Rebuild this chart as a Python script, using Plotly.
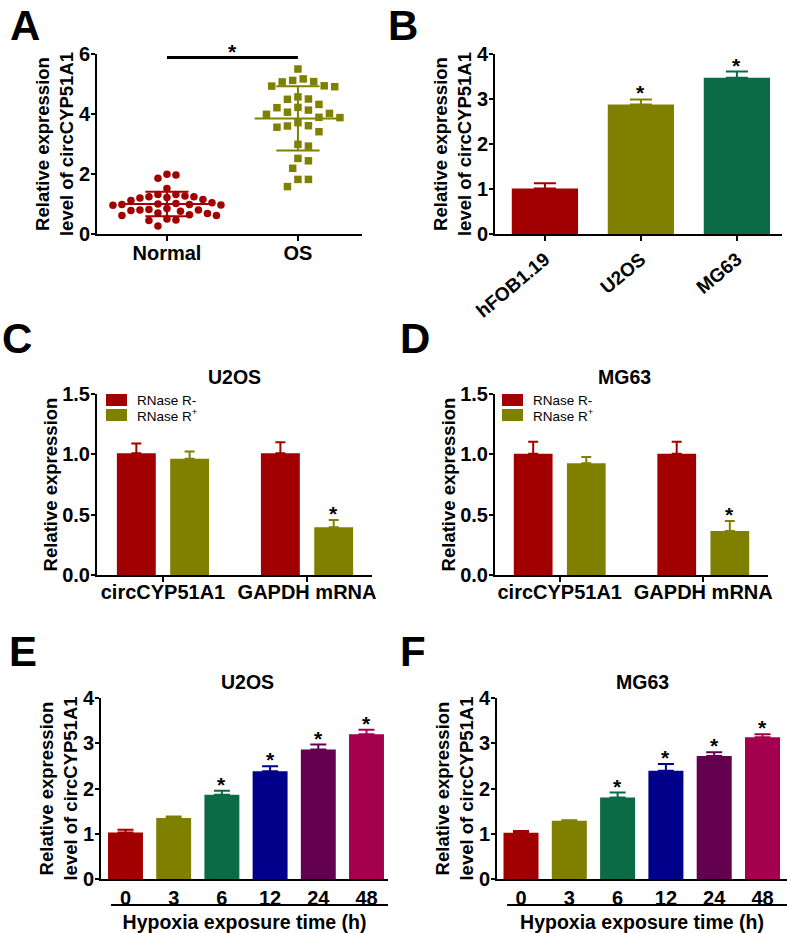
import numpy as np
import plotly.graph_objects as go

# ---------------- data ----------------
groups_A = ["Normal", "OS"]
normal_vals = [1.97, 1.86, 1.99, 1.52,
               1.32, 1.32, 1.27, 1.24, 1.22, 1.20, 1.24,
               1.12, 1.15,
               1.02, 0.98, 0.96, 1.00, 0.98, 1.04, 0.97,
               0.80, 0.82, 0.78, 0.76, 0.85, 0.80,
               0.68, 0.62, 0.70, 0.64, 0.62,
               0.50, 0.47, 0.45,
               0.27]
os_vals = [5.50, 5.17, 5.07, 5.12, 5.08, 4.94, 4.91, 4.93, 4.57, 4.49, 4.50,
           4.32, 4.21, 4.22, 4.13, 4.06, 3.99, 4.02, 3.88, 3.89, 3.71, 3.61,
           3.56, 3.60, 3.41, 2.93, 2.99, 2.44, 2.52, 2.19, 1.82, 1.82, 1.58]

cell_lines = ["hFOB1.19", "U2OS", "MG63"]
cell_mean = [1.01, 2.88, 3.47]
cell_err = [0.12, 0.11, 0.14]
cell_sig = [False, True, True]

rnase_genes = ["circCYP51A1", "GAPDH mRNA"]
u2os_minus = [1.01, 1.01]
u2os_minus_err = [0.08, 0.09]
u2os_plus = [0.963, 0.396]
u2os_plus_err = [0.06, 0.06]
mg63_minus = [1.005, 1.005]
mg63_minus_err = [0.10, 0.10]
mg63_plus = [0.927, 0.365]
mg63_plus_err = [0.05, 0.083]
rnase_sig = [False, True]

hyp_times = ["0", "3", "6", "12", "24", "48"]
u2os_hyp = [1.03, 1.35, 1.86, 2.38, 2.86, 3.20]
u2os_hyp_err = [0.06, 0.03, 0.09, 0.11, 0.11, 0.10]
mg63_hyp = [1.02, 1.29, 1.80, 2.39, 2.72, 3.13]
mg63_hyp_err = [0.04, 0.01, 0.11, 0.15, 0.08, 0.07]
hyp_sig = [False, False, True, True, True, True]

# ---------------- style ----------------
W, H = 787, 933
FONT = "Liberation Sans, Arial, sans-serif"
NARROW = "Liberation Sans Narrow, Arial Narrow, Liberation Sans, sans-serif"
RED = "#A20000"
OLIVE = "#808000"
GREEN = "#0A6B46"
BLUE = "#00008A"
PURPLE = "#630050"
CRIMSON = "#A5004E"
HYP_COLORS = [RED, OLIVE, GREEN, BLUE, PURPLE, CRIMSON]


def px(x):
    return x / W


def py(y):
    return 1 - y / H


def swarm(vals, ppu_y, ppu_x, d):
    """Simple deterministic beeswarm: returns x offsets (axis units)."""
    placed = []
    offs = [0.0] * len(vals)
    order = sorted(range(len(vals)), key=lambda i: -vals[i])
    cands = [0.0] + [s * j * d * 0.5 for j in range(1, 60) for s in (1, -1)]
    for i in order:
        yv = vals[i] * ppu_y
        for c in cands:
            if all((c - a) ** 2 + (yv - b) ** 2 >= d * d for a, b in placed):
                break
        placed.append((c, yv))
        offs[i] = c / ppu_x
    return offs


fig = go.Figure()

# ---------------- panel A ----------------
for gi, (vals, sym, col, d) in enumerate([(normal_vals, "circle", RED, 9.0),
                                          (os_vals, "square", OLIVE, 10.5)]):
    offs = swarm(vals, 30, 131, d)
    fig.add_trace(go.Scatter(x=[gi + o for o in offs], y=vals, mode="markers",
                             marker=dict(symbol=sym, size=7.5, color=col, line=dict(width=0)),
                             xaxis="x", yaxis="y", showlegend=False, hoverinfo="y"))
    m = float(np.mean(vals))
    s = float(np.std(vals, ddof=1))
    xs = [gi - 0.33, gi + 0.33, None, gi, gi, None,
          gi - 0.165, gi + 0.165, None, gi - 0.165, gi + 0.165]
    ys = [m, m, None, m - s, m + s, None, m + s, m + s, None, m - s, m - s]
    fig.add_trace(go.Scatter(x=xs, y=ys, mode="lines", line=dict(color=col, width=2),
                             xaxis="x", yaxis="y", showlegend=False, hoverinfo="skip"))

SIG_Y_A = 5.88
fig.add_shape(type="line", xref="x", yref="y", x0=0, x1=1, y0=SIG_Y_A, y1=SIG_Y_A,
              line=dict(color="black", width=3))

annotations = []


def star(xref, yref, x, y):
    annotations.append(dict(xref=xref, yref=yref, x=x, y=y, text="*", showarrow=False,
                            yanchor="bottom", yshift=-7,
                            font=dict(family=FONT, size=21, color="black", weight="bold")))


star("x", "y", 0.5, SIG_Y_A)

# ---------------- panel B ----------------
for i, (v, e, c) in enumerate(zip(cell_mean, cell_err, [RED, OLIVE, GREEN])):
    fig.add_trace(go.Bar(x=[i], y=[v], width=0.69, marker=dict(color=c, line=dict(width=0)),
                         error_y=dict(type="data", array=[e], arrayminus=[0], symmetric=False,
                                      color=c, thickness=2, width=11),
                         xaxis="x2", yaxis="y2", showlegend=False))
    if cell_sig[i]:
        star("x2", "y2", i, v + e)

# ---------------- panels C & D ----------------
BW, OFF_M, OFF_P = 0.27, -0.32, 0.05
for ax_i, (mn, mne, pl, ple) in zip([3, 4], [(u2os_minus, u2os_minus_err, u2os_plus, u2os_plus_err),
                                            (mg63_minus, mg63_minus_err, mg63_plus, mg63_plus_err)]):
    xa, ya = "x%d" % ax_i, "y%d" % ax_i
    xs = list(range(len(rnase_genes)))
    fig.add_trace(go.Bar(x=xs, y=mn, width=BW, offset=OFF_M, marker=dict(color=RED, line=dict(width=0)),
                         error_y=dict(type="data", array=mne, arrayminus=[0] * len(mn), symmetric=False,
                                      color=RED, thickness=2, width=5),
                         xaxis=xa, yaxis=ya, showlegend=False))
    fig.add_trace(go.Bar(x=xs, y=pl, width=BW, offset=OFF_P, marker=dict(color=OLIVE, line=dict(width=0)),
                         error_y=dict(type="data", array=ple, arrayminus=[0] * len(pl), symmetric=False,
                                      color=OLIVE, thickness=2, width=5),
                         xaxis=xa, yaxis=ya, showlegend=False))
    for j, sg in enumerate(rnase_sig):
        if sg:
            star(xa, ya, j + OFF_P + BW / 2, pl[j] + ple[j])

# ---------------- panels E & F ----------------
for ax_i, (vals, errs) in zip([5, 6], [(u2os_hyp, u2os_hyp_err), (mg63_hyp, mg63_hyp_err)]):
    xa, ya = "x%d" % ax_i, "y%d" % ax_i
    for i, (v, e, c) in enumerate(zip(vals, errs, HYP_COLORS)):
        fig.add_trace(go.Bar(x=[i], y=[v], width=0.725, marker=dict(color=c, line=dict(width=0)),
                             error_y=dict(type="data", array=[e], arrayminus=[0], symmetric=False,
                                          color=c, thickness=2, width=8),
                             xaxis=xa, yaxis=ya, showlegend=False))
        if hyp_sig[i]:
            star(xa, ya, i, v + e)

# ---------------- axes ----------------
TICKFONT = dict(family=FONT, size=20, color="black", weight="bold")
TITLEFONT = dict(family=FONT, size=18.5, color="black", weight="bold")


def xax(x0, x1, yaxis, rng, ticktext, ticks="outside", angle=0, title=None, lab_off=0, fsize=20):
    d = dict(domain=[px(x0), px(x1)], anchor=yaxis, range=rng,
             tickmode="array", tickvals=list(range(len(ticktext))), ticktext=ticktext,
             showline=True, linecolor="black", linewidth=2, ticks=ticks, ticklen=5,
             tickwidth=2, tickcolor="black", showgrid=False, zeroline=False,
             tickfont=dict(TICKFONT, size=fsize), tickangle=angle, fixedrange=True,
             ticklabelstandoff=lab_off)
    if title:
        d["title"] = dict(text=title, font=dict(family=FONT, size=19.5, color="black", weight="bold"),
                          standoff=10)
    return d


def yax(ytop, ybot, xaxis, rng, dtick, title, standoff, fmt=None):
    d = dict(domain=[py(ybot), py(ytop)], anchor=xaxis, range=rng, dtick=dtick, tick0=0,
             showline=True, linecolor="black", linewidth=2, ticks="outside", ticklen=4,
             tickwidth=2, tickcolor="black", showgrid=False, zeroline=False,
             tickfont=TICKFONT, fixedrange=True, ticklabelstandoff=-3,
             title=dict(text=title, font=TITLEFONT, standoff=standoff))
    if fmt:
        d["tickformat"] = fmt
    return d


TWO_LINE = "Relative expression<br>level of circCYP51A1"

layout_axes = dict(
    xaxis=xax(97, 362, "y", [-0.534, 1.489], groups_A, lab_off=-5),
    yaxis=yax(54, 234, "x", [0, 6], 2, TWO_LINE, 0),
    xaxis2=xax(495, 782, "y2", [-0.52, 2.47], cell_lines, angle=-40, fsize=19),
    yaxis2=yax(54, 234, "x2", [0, 4], 1, TWO_LINE, 0),
    xaxis3=xax(97, 372, "y3", [-0.458, 1.451], rnase_genes, lab_off=-7),
    yaxis3=yax(394, 575, "x3", [0, 1.5], 0.5, "Relative expression", 0, ".1f"),
    xaxis4=xax(495, 768, "y4", [-0.451, 1.451], rnase_genes, lab_off=-7),
    yaxis4=yax(394, 575, "x4", [0, 1.5], 0.5, "Relative expression", 0, ".1f"),
    xaxis5=xax(101, 388, "y5", [-0.508, 5.446], hyp_times, ticks="",
               title="Hypoxia exposure time (h)"),
    yaxis5=yax(698, 879, "x5", [0, 4], 1, TWO_LINE, 0),
    xaxis6=xax(497, 787, "y6", [-0.497, 5.507], hyp_times, ticks="",
               title="Hypoxia exposure time (h)"),
    yaxis6=yax(698, 879, "x6", [0, 4], 1, TWO_LINE, 0),
)

# ---------------- decorations ----------------
for letter, (lx, ly, anc) in zip("ABCDEF", [(25, 0, "top"), (403, 0, "top"), (17, 339, "middle"),
                                            (415, 338, "middle"), (23, 651, "middle"), (413, 651, "middle")]):
    annotations.append(dict(xref="paper", yref="paper", x=px(lx), y=py(ly), text=letter,
                            showarrow=False, xanchor="center", yanchor=anc,
                            font=dict(family=FONT, size=42, color="black", weight="bold")))

for t, (tx, ty) in zip(["U2OS", "MG63", "U2OS", "MG63"], [(235, 377), (624, 377), (247, 682), (642, 682)]):
    annotations.append(dict(xref="paper", yref="paper", x=px(tx), y=py(ty), text=t,
                            showarrow=False, xanchor="center", yanchor="middle",
                            font=dict(family=FONT, size=19.5, color="black", weight="bold")))

shapes = []
# legends for C and D
for bx in (106, 502):
    for k, (c, lab) in enumerate([(RED, "RNase R-"), (OLIVE, "RNase R<sup>+</sup>")]):
        y0 = 394 + k * 15
        shapes.append(dict(type="rect", xref="paper", yref="paper", x0=px(bx), x1=px(bx + 21),
                           y0=py(y0 + 12), y1=py(y0), fillcolor=c, line=dict(width=0)))
        annotations.append(dict(xref="paper", yref="paper", x=px(bx + 29), y=py(y0 + 6), text=lab,
                                showarrow=False, xanchor="left", yanchor="middle",
                                height=14, valign="middle",
                                font=dict(family=NARROW, size=13.5, color="black")))

# underline of hypoxia time axis
for xr, (a, b) in zip(["x5 domain", "x6 domain"], [(0.035, 1.0), (0.035, 1.0)]):
    shapes.append(dict(type="line", xref=xr, yref="paper", x0=a, x1=b, y0=py(905), y1=py(905),
                       line=dict(color="black", width=2)))

fig.update_layout(
    width=W, height=H, margin=dict(l=0, r=0, t=0, b=0),
    paper_bgcolor="white", plot_bgcolor="white", template="none",
    font=dict(family=FONT, color="black"),
    showlegend=False, barmode="overlay",
    annotations=annotations,
    **layout_axes,
)
for s in shapes:
    fig.add_shape(**s)

fig.write_html("out.html", config={"displayModeBar": False},
               post_script="document.body.style.margin='0';document.body.style.overflow='hidden';")
